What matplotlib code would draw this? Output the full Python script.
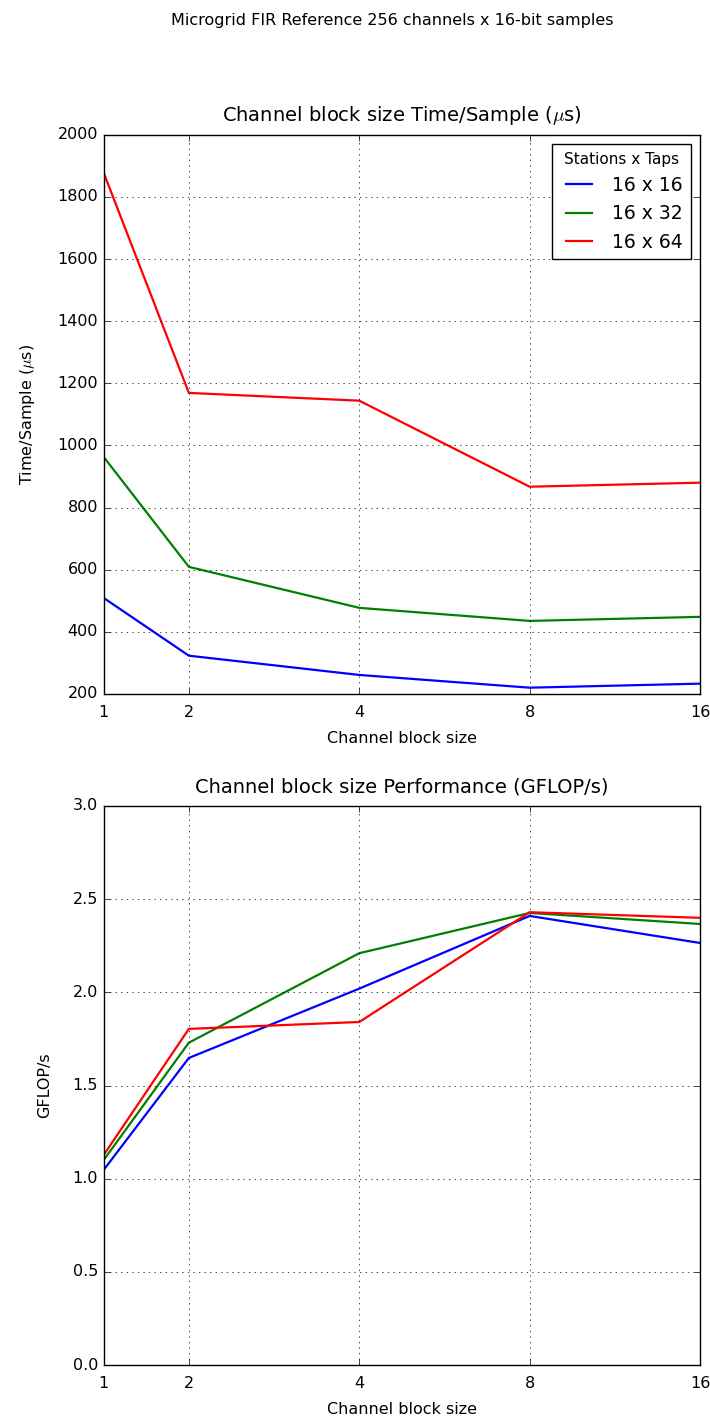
import numpy as np
import matplotlib
matplotlib.use("Agg")
import matplotlib.pyplot as plt

# data
block_sizes = [1, 2, 4, 8, 16]
series_labels = ["16 x 16", "16 x 32", "16 x 64"]
time_16x16 = [509, 323, 261, 220, 233]
time_16x32 = [963, 609, 477, 435, 448]
time_16x64 = [1878, 1169, 1144, 867, 880]
gflops_16x16 = [1.047, 1.648, 2.02, 2.41, 2.265]
gflops_16x32 = [1.10, 1.73, 2.21, 2.426, 2.367]
gflops_16x64 = [1.127, 1.804, 1.841, 2.43, 2.40]
colors = ["b", "g", "r"]


# x axis: log2 spacing from 2 up, the 1->2 step gets half an octave
def fwd(x):
    x = np.asarray(x, dtype=float)
    return np.where(x < 2, x / 2.0, np.log2(np.maximum(x, 1e-9)))


def inv(y):
    y = np.asarray(y, dtype=float)
    return np.where(y < 1, 2.0 * y, 2.0 ** y)


plt.style.use("classic")
fig = plt.figure(figsize=(7.1, 14.19), dpi=100, facecolor="white")
fig.suptitle("Microgrid FIR Reference 256 channels x 16-bit samples",
             fontsize=11.5, x=0.552, y=0.991)

ax1 = fig.add_axes([0.146, 0.511, 0.840, 0.394])
ax2 = fig.add_axes([0.146, 0.038, 0.840, 0.394])

for ys, lab, c in zip([time_16x16, time_16x32, time_16x64], series_labels, colors):
    ax1.plot(block_sizes, ys, color=c, label=lab, linewidth=1.6)
for ys, lab, c in zip([gflops_16x16, gflops_16x32, gflops_16x64], series_labels, colors):
    ax2.plot(block_sizes, ys, color=c, label=lab, linewidth=1.6)

for ax in (ax1, ax2):
    ax.set_xscale("function", functions=(fwd, inv))
    ax.set_xlim(1, 16)
    ax.set_xticks(block_sizes)
    ax.set_xticklabels([str(b) for b in block_sizes])
    ax.minorticks_off()
    ax.grid(True)
    ax.tick_params(labelsize=11.5)
    ax.tick_params(axis="x", pad=8)
    ax.set_xlabel("Channel block size", fontsize=11.5, labelpad=8)

ax1.set_ylim(200, 2000)
ax1.set_yticks(np.arange(200, 2001, 200))
ax1.set_ylabel(r"Time/Sample ($\mu$s)", fontsize=11.5, labelpad=15)
ax1.set_title(r"Channel block size Time/Sample ($\mu$s)", fontsize=14, y=1.012)
leg = ax1.legend(loc="upper right", title="Stations x Taps", fontsize=13.5)
leg.get_title().set_fontsize(11)

ax2.set_ylim(0, 3.0)
ax2.set_yticks(np.arange(0, 3.01, 0.5))
ax2.set_ylabel("GFLOP/s", fontsize=11.5, labelpad=15)
ax2.set_title("Channel block size Performance (GFLOP/s)", fontsize=14, y=1.012)

fig.savefig("out.png", dpi=100, facecolor="white")
